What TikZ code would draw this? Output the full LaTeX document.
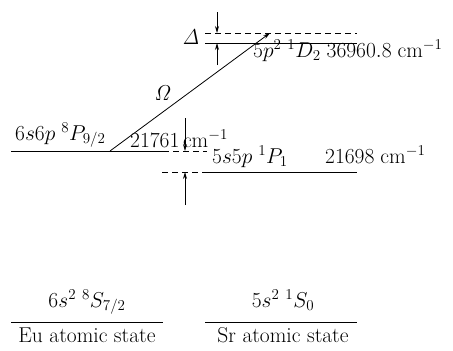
\RequirePackage{fix-cm}
\documentclass[tikz,border=0pt]{standalone}
\usepackage{amsmath}
\usetikzlibrary{arrows.meta}
\tikzset{
  livello/.style={line width=1pt},
  virtuale/.style={line width=1pt, dash pattern=on 6pt off 4pt},
  freccia/.style={-{Stealth[length=7pt,width=4pt]}, line width=0.8pt},
  etichetta/.style={inner sep=0pt, anchor=base west}
}

\begin{document}
\begin{tikzpicture}[x=1pt,y=-1pt,font=\fontsize{21.5}{25}\selectfont]
    \useasboundingbox (0,0) rectangle (453,351);
    % Livelli eccitati
    \coordinate (euP-sx) at (11,151);
    \coordinate (euP-dx) at (163,151);
    \coordinate (euP-tr) at (207,151);
    \coordinate (srP-tr) at (162,172);
    \coordinate (srP-sx) at (203,172);
    \coordinate (srP-dx) at (357,172);
    \coordinate (srD-sx) at (205,43);
    \coordinate (srD-dx) at (357,43);
    \coordinate (virt-sx) at (205,33);
    \coordinate (virt-dx) at (357,33);
    \coordinate (omega-in) at (110,151);
    \coordinate (omega-fin) at (270,33);
    \draw[livello] (euP-sx) -- (euP-dx);
    \draw[virtuale] (euP-dx) -- (euP-tr);
    \draw[virtuale] (srP-tr) -- (srP-sx);
    \draw[livello] (srP-sx) -- (srP-dx);
    \draw[livello] (srD-sx) -- (srD-dx);
    \draw[virtuale] (virt-sx) -- (virt-dx);
    % Laser
    \draw[freccia] (omega-in) -- (omega-fin);
    \node (omega) at (163,93) {$\mathit{\Omega}$};
    % Detuning
    \coordinate (det-su) at (217,12);
    \coordinate (det-giu) at (217,65);
    \draw[freccia] (det-su) -- (217,33);
    \draw[freccia] (det-giu) -- (217,43);
    \node (delta) at (191,37) {$\mathit{\Delta}$};
    \coordinate (ds-su) at (185,118);
    \coordinate (ds-giu) at (185,205);
    \draw[freccia] (ds-su) -- (185,151);
    \draw[freccia] (ds-giu) -- (185,172);
    % Etichette
    \node[etichetta] (lab-euP) at (15,140) {$6s6p\;{}^8P_{9/2}$};
    \node[etichetta] (lab-euE) at (130,147) {$21761\,\mathrm{cm}^{-1}$};
    \node[etichetta] (lab-srP) at (212,163) {$5s5p\;{}^1P_1$};
    \node[etichetta] (lab-srE) at (325,163) {$21698\;\mathrm{cm}^{-1}$};
    \node[etichetta] (lab-srD) at (253,57) {$5p^2\;{}^1D_2\;36960.8\;\mathrm{cm}^{-1}$};
    % Stati fondamentali
    \coordinate (euS-sx) at (11,322);
    \coordinate (euS-dx) at (163,322);
    \coordinate (srS-sx) at (205,322);
    \coordinate (srS-dx) at (357,322);
    \draw[livello] (euS-sx) -- (euS-dx);
    \draw[livello] (srS-sx) -- (srS-dx);
    \node[inner sep=0pt, anchor=base] (lab-euS) at (87,307) {$6s^2\;{}^8S_{7/2}$};
    \node[inner sep=0pt, anchor=base] (lab-srS) at (283,307) {$5s^2\;{}^1S_0$};
    \node[inner sep=0pt, anchor=base] (eu) at (87,342) {Eu atomic state};
    \node[inner sep=0pt, anchor=base] (sr) at (283,342) {Sr atomic state};
\end{tikzpicture}
\end{document}
